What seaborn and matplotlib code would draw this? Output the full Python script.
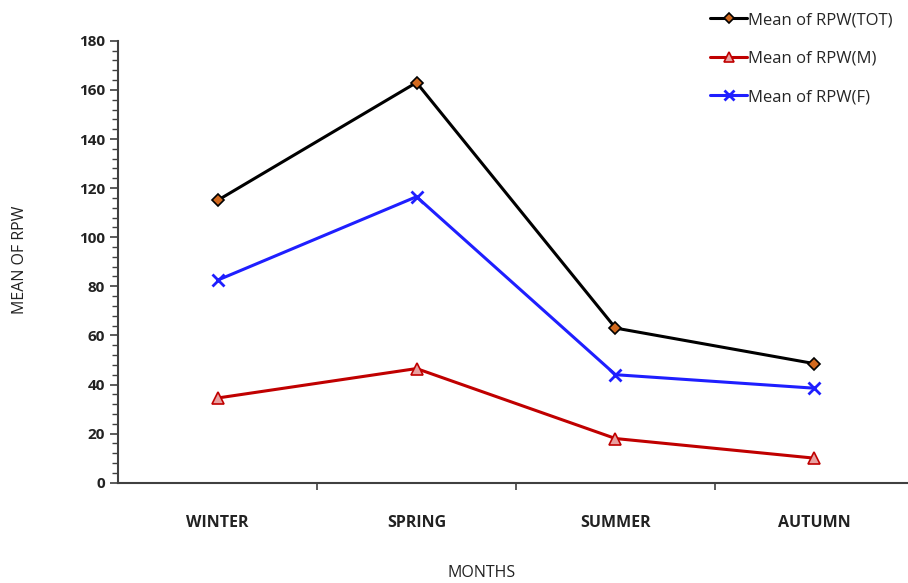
import matplotlib.pyplot as plt
import seaborn as sns
import pandas as pd
import numpy as np
from matplotlib.ticker import MultipleLocator, FixedLocator

months = ["WINTER", "SPRING", "SUMMER", "AUTUMN"]
rpw_tot = [115, 163, 63, 48.5]
rpw_m = [34.5, 46.5, 18, 10]
rpw_f = [82.5, 116.5, 44, 38.5]

sns.set_theme(style="white")
plt.rcParams["font.family"] = ["Open Sans", "DejaVu Sans"]

df = pd.DataFrame({
    "month": months * 3,
    "x": list(range(4)) * 3,
    "value": rpw_tot + rpw_m + rpw_f,
    "series": ["Mean of RPW(TOT)"] * 4 + ["Mean of RPW(M)"] * 4 + ["Mean of RPW(F)"] * 4,
})

fig = plt.figure(figsize=(9.08, 5.83), dpi=100)
ax = fig.add_axes([0.130, 0.172, 0.87, 0.758])

styles = {
    "Mean of RPW(TOT)": dict(color="black", marker="D", mfc="#d2691e", mec="black", ms=6),
    "Mean of RPW(M)": dict(color="#c00000", marker="^", mfc="#e8a0a0", mec="#c00000", ms=8),
    "Mean of RPW(F)": dict(color="#1f1fff", marker="x", mec="#1f1fff", ms=8, mew=2),
}
for name, st in styles.items():
    sub = df[df["series"] == name]
    sns.lineplot(data=sub, x="x", y="value", ax=ax, color=st["color"], lw=2.2, legend=False)
    ax.plot(sub["x"], sub["value"], ls="none", marker=st["marker"], ms=st["ms"],
            mfc=st.get("mfc", st["color"]), mec=st["mec"], mew=st.get("mew", 1.2))

ax.set_xlim(-0.5, 3.47)
ax.set_ylim(0, 180)
ax.yaxis.set_major_locator(MultipleLocator(20))
ax.yaxis.set_minor_locator(MultipleLocator(4))
ax.set_xticks(range(4))
ax.set_xticklabels(months)
ax.xaxis.set_minor_locator(FixedLocator([0.5, 1.5, 2.5]))
for s in ["top", "right"]:
    ax.spines[s].set_visible(False)
for s in ["left", "bottom"]:
    ax.spines[s].set_color("#404040")
    ax.spines[s].set_linewidth(1.5)
ax.tick_params(axis="y", which="major", left=True, length=6, width=1.2, color="#404040",
               labelsize=11)
ax.tick_params(axis="y", which="minor", left=True, length=4, width=1, color="#404040")
ax.tick_params(axis="x", which="major", bottom=False, labelsize=11.5, pad=17)
ax.tick_params(axis="x", which="minor", bottom=True, length=5, width=1.2, color="#404040")
for lab in ax.get_xticklabels() + ax.get_yticklabels():
    lab.set_fontweight("bold")
    lab.set_color("#222222")
ax.set_xlabel("")
ax.set_ylabel("")
fig.text(0.53, 0.018, "MONTHS", ha="center", va="center", fontsize=11.5, color="#222222")
fig.text(0.022, 0.555, "MEAN OF RPW", ha="center", va="center", rotation=90,
         fontsize=11.5, color="#222222")

handles, labels = [], []
for name, st in styles.items():
    h = plt.Line2D([], [], color=st["color"], lw=2.2, marker=st["marker"], ms=st["ms"] - 1,
                   mfc=st.get("mfc", st["color"]), mec=st["mec"], mew=st.get("mew", 1.2))
    handles.append(h)
    labels.append(name)
fig.legend(handles, labels, loc="upper right", bbox_to_anchor=(1.0, 1.005), frameon=False,
           fontsize=12, handlelength=2.2, handletextpad=0.1, labelspacing=1.35)

fig.savefig("out.png", dpi=100)
